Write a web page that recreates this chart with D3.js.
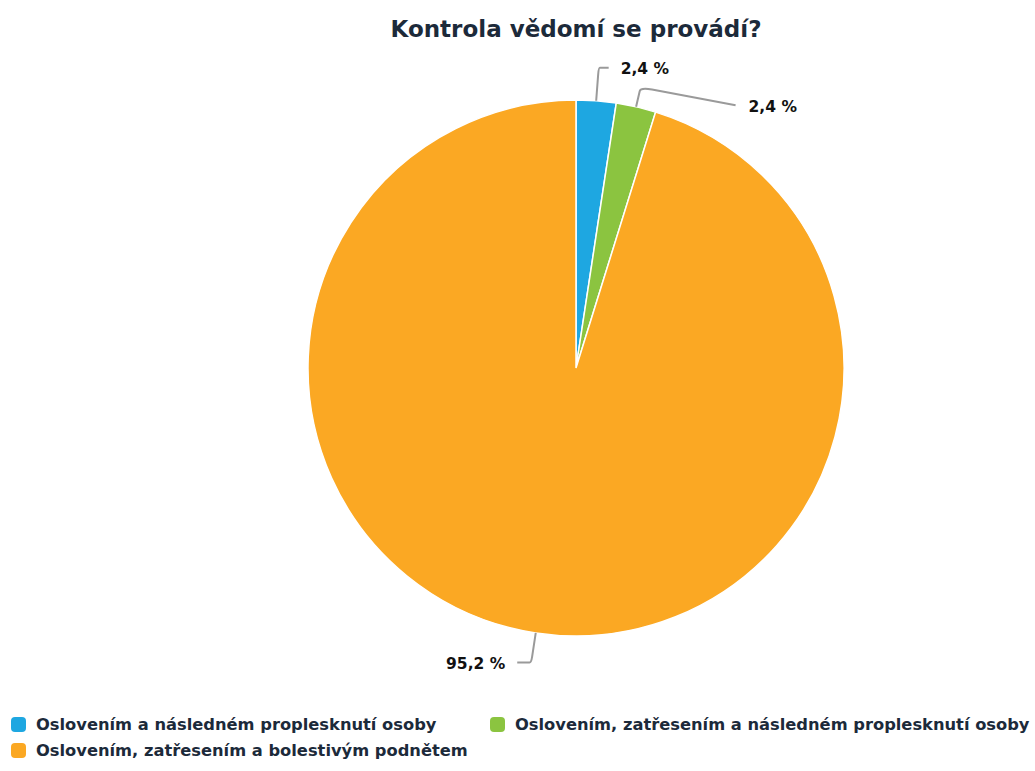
<!DOCTYPE html>
<html><head><meta charset="utf-8">
<script src="https://cdn.jsdelivr.net/npm/d3@7"></script>
<style>body{margin:0;background:#fff}svg{display:block}text{font-family:"DejaVu Sans",sans-serif}</style>
</head><body><svg id="c" width="1035" height="771"></svg>
<script>
const title = "Kontrola vědomí se provádí?";
const categories = ["Oslovením a následném proplesknutí osoby","Oslovením, zatřesením a následném proplesknutí osoby","Oslovením, zatřesením a bolestivým podnětem"];
const values = [2.4, 2.4, 95.2];
const valueLabels = ["2,4 %","2,4 %","95,2 %"];
const colors = ["#1ea7e1","#8bc440","#fba823"];

const svg = d3.select("#c");
const cx = 576, cy = 368, R = 268;
svg.append("text").attr("x", cx).attr("y", 37).attr("text-anchor","middle")
  .style("font-size","23px").style("font-weight","700").attr("fill","#1c2a3a").text(title);

const pie = d3.pie().sort(null).value(d=>d);
const arcs = pie(values);
const arc = d3.arc().innerRadius(0).outerRadius(R);
const g = svg.append("g").attr("transform",`translate(${cx},${cy})`);
g.selectAll("path.s").data(arcs).join("path").attr("class","s")
  .attr("d",arc).attr("fill",(d,i)=>colors[i]).attr("stroke","#fff").attr("stroke-width",1.5);

// leader lines
const ext = [33, 20, 30];
arcs.forEach((a,i)=>{
  const m = (a.startAngle+a.endAngle)/2;
  const p0 = [R*Math.sin(m), -R*Math.cos(m)];
  const r1 = R+ext[i];
  const p1 = [r1*Math.sin(m), -r1*Math.cos(m)];
  const right = Math.sin(m) >= 0;
  let p2, tx, ty;
  if (i===1) { p2 = [p1[0]+95, p1[1]+18]; tx = p2[0]+13; ty = p2[1]+7; }
  else { p2 = [p1[0]+(right?10:-14), p1[1]]; tx = p2[0]+(right?12:-12); ty = p2[1]+6; }
  const mid = [p1[0]+(p2[0]-p1[0])*0.12, p1[1]+(p2[1]-p1[1])*0.12];
  const b = [p0[0]+(p1[0]-p0[0])*0.8, p0[1]+(p1[1]-p0[1])*0.8];
  const path = d3.path();
  path.moveTo(p0[0],p0[1]); path.lineTo(b[0],b[1]);
  path.quadraticCurveTo(p1[0],p1[1],mid[0],mid[1]); path.lineTo(p2[0],p2[1]);
  g.append("path").attr("d",path.toString()).attr("fill","none").attr("stroke","#9a9a9a").attr("stroke-width",2);
  g.append("text").attr("x",tx).attr("y",ty).attr("text-anchor",right?"start":"end")
    .style("font-size","15.5px").style("font-weight","700").attr("fill","#111").text(valueLabels[i]);
});

// legend
const legPos = [[11,724],[490,724],[11,750]];
categories.forEach((c,i)=>{
  const [x,y] = legPos[i];
  svg.append("rect").attr("x",x).attr("y",y-7).attr("width",15).attr("height",15).attr("rx",4)
    .attr("fill",colors[i]);
  svg.append("text").attr("x",x+25).attr("y",y+6).style("font-size","16.3px").style("font-weight","700")
    .attr("fill","#1c2a3a").text(c);
});
</script></body></html>
